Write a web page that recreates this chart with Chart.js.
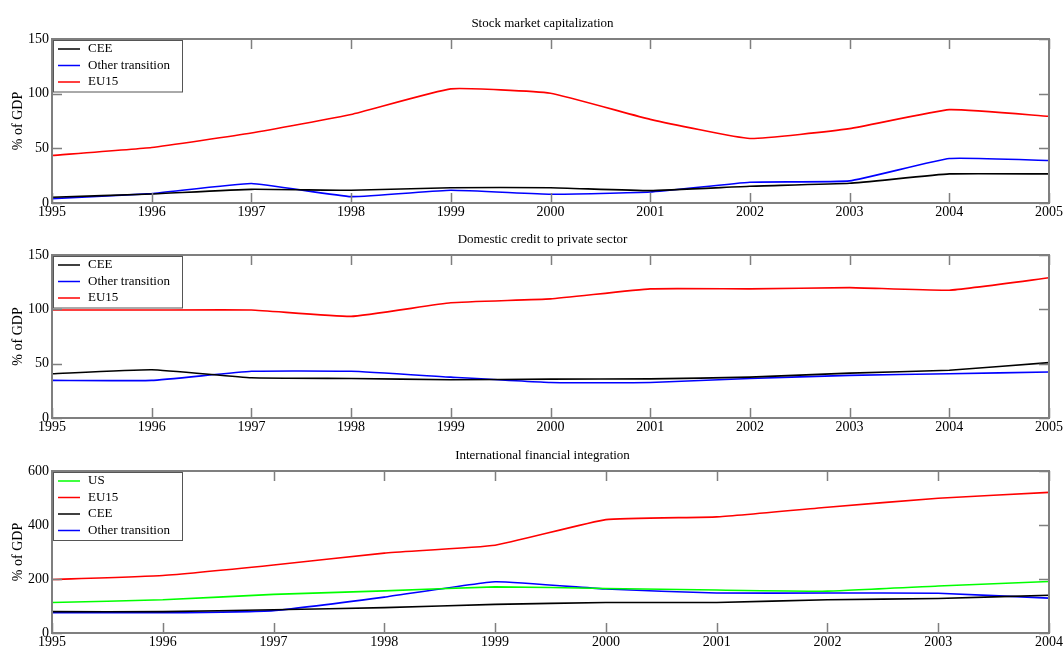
<!DOCTYPE html>
<html>
<head>
<meta charset="utf-8">
<script src="https://cdn.jsdelivr.net/npm/chart.js@4.4.0/dist/chart.umd.min.js"></script>
<style>
  html, body { margin: 0; padding: 0; background: #fff; overflow: hidden; }
  body { width: 1064px; height: 647px; position: relative; }
  .panel { position: absolute; left: 0; width: 1064px; height: 230px; }
</style>
</head>
<body>
<div class="panel" style="top:0px"><canvas id="c1"></canvas></div>
<div class="panel" style="top:216px"><canvas id="c2"></canvas></div>
<div class="panel" style="top:432px"><canvas id="c3"></canvas></div>
<script>
// years
const years = ['1995', '1996', '1997', '1998', '1999', '2000', '2001', '2002', '2003', '2004', '2005'];
const yearsIntl = ['1995', '1996', '1997', '1998', '1999', '2000', '2001', '2002', '2003', '2004'];

// Stock market capitalization (% of GDP)
const stockCEE = [5.2, 8.3, 12.5, 11.6, 14, 14, 11.3, 15.3, 18, 26.6, 26.6];
const stockOther = [4, 8.6, 17.8, 5.8, 11.6, 8, 10, 19, 20.2, 40.7, 38.9];
const stockEU15 = [43.5, 50.8, 64, 81, 104.4, 100.4, 76.5, 59, 68, 85.4, 79.3];

// Domestic credit to private sector (% of GDP)
const creditCEE = [40.7, 44.4, 37, 36.4, 35.2, 35.8, 36, 37.6, 41.3, 44, 51];
const creditOther = [34.6, 34.6, 43, 43, 37.6, 32.7, 32.7, 36.4, 39.2, 40.7, 42.3];
const creditEU15 = [99.4, 99.4, 99.4, 93.5, 106, 109.6, 118.8, 118.8, 120, 117.6, 129];

// International financial integration (% of GDP)
const intlUS = [113, 123, 143, 156, 171, 165, 159, 155, 174, 191];
const intlEU15 = [198, 213, 252, 296, 325, 420, 430, 466, 499, 521];
const intlCEE = [79, 79, 86, 94, 106, 113, 113, 123, 128, 140];
const intlOther = [75, 75, 83, 133, 190, 163, 148, 148, 147, 129];

// y axis ticks
const ticksSmall = [0, 50, 100, 150];
const ticksIntl = [0, 200, 400, 600];

const FONT = 'Liberation Serif';

// frame, inward ticks, title and boxed legend drawn on top of the chart
const framePlugin = {
    id: 'frame',
    afterDraw(chart, args, opts) {
        const ctx = chart.ctx;
        const a = chart.chartArea;
        const xs = chart.scales.x, ys = chart.scales.y;
        ctx.save();
        ctx.strokeStyle = '#7f7f7f';
        ctx.lineWidth = 1.5;
        ctx.beginPath();
        xs.ticks.forEach((t, i) => {
            const x = Math.round(xs.getPixelForTick(i)) + 0.5;
            ctx.moveTo(x, a.bottom); ctx.lineTo(x, a.bottom - 10);
            ctx.moveTo(x, a.top); ctx.lineTo(x, a.top + 10);
        });
        ys.ticks.forEach(t => {
            const y = Math.round(ys.getPixelForValue(t.value)) + 0.5;
            ctx.moveTo(a.left, y); ctx.lineTo(a.left + 10, y);
            ctx.moveTo(a.right, y); ctx.lineTo(a.right - 10, y);
        });
        ctx.stroke();
        ctx.lineWidth = 2;
        ctx.strokeRect(a.left, a.top, a.right - a.left, a.bottom - a.top);

        // title
        ctx.fillStyle = '#000';
        ctx.font = '13px "' + FONT + '"';
        ctx.textAlign = 'center';
        ctx.textBaseline = 'middle';
        ctx.fillText(opts.title, (a.left + a.right) / 2 - 8, a.top - 15);

        // legend
        const ds = chart.data.datasets;
        const rowH = 16.5;
        const bx = a.left + 1, by = a.top + 1;
        const bw = 129, bh = ds.length * rowH + 2;
        ctx.fillStyle = '#fff';
        ctx.fillRect(bx, by, bw, bh);
        ctx.lineWidth = 1;
        ctx.strokeStyle = '#555';
        ctx.strokeRect(bx + 0.5, by + 0.5, bw, bh);
        ctx.textAlign = 'left';
        ds.forEach((d, i) => {
            const y = by + 9 + i * rowH;
            ctx.strokeStyle = d.borderColor;
            ctx.lineWidth = 1.5;
            ctx.beginPath();
            ctx.moveTo(bx + 5, y); ctx.lineTo(bx + 27, y);
            ctx.stroke();
            ctx.fillStyle = '#000';
            ctx.fillText(d.label, bx + 35, y);
        });
        ctx.restore();
    }
};

function makeChart(id, title, labels, datasets, yTicks, xAxisHeight) {
    new Chart(document.getElementById(id), {
        type: 'line',
        data: {
            labels: labels,
            datasets: datasets.map(d => ({
                label: d[0],
                data: d[1],
                borderColor: d[2],
                backgroundColor: d[2],
                borderWidth: 1.6,
                pointRadius: 0,
                fill: false,
                tension: 0.12
            }))
        },
        options: {
            responsive: true,
            maintainAspectRatio: false,
            animation: false,
            layout: { padding: { top: 39, right: 15, left: 0, bottom: 0 } },
            plugins: {
                legend: { display: false },
                tooltip: { enabled: false },
                frame: { title: title }
            },
            scales: {
                x: {
                    type: 'category',
                    offset: false,
                    grid: { display: false, drawTicks: false },
                    border: { display: false },
                    ticks: {
                        color: '#000',
                        font: { family: FONT, size: 14 },
                        padding: 1,
                        maxRotation: 0,
                        autoSkip: false
                    },
                    afterFit: s => { s.height = xAxisHeight; }
                },
                y: {
                    min: yTicks[0],
                    max: yTicks[yTicks.length - 1],
                    grid: { display: false, drawTicks: false },
                    border: { display: false },
                    afterBuildTicks: s => { s.ticks = yTicks.map(v => ({ value: v })); },
                    ticks: {
                        color: '#000',
                        font: { family: FONT, size: 14 },
                        padding: 3
                    },
                    title: {
                        display: true,
                        text: '% of GDP',
                        color: '#000',
                        font: { family: FONT, size: 14 },
                        padding: { top: 10, bottom: 0 }
                    },
                    afterFit: s => { s.width = 52; }
                }
            }
        },
        plugins: [framePlugin]
    });
}

makeChart('c1', 'Stock market capitalization', years, [
    ['CEE', stockCEE, '#000000'],
    ['Other transition', stockOther, '#0000ff'],
    ['EU15', stockEU15, '#ff0000']
], ticksSmall, 27);

makeChart('c2', 'Domestic credit to private sector', years, [
    ['CEE', creditCEE, '#000000'],
    ['Other transition', creditOther, '#0000ff'],
    ['EU15', creditEU15, '#ff0000']
], ticksSmall, 28);

makeChart('c3', 'International financial integration', yearsIntl, [
    ['US', intlUS, '#00ff00'],
    ['EU15', intlEU15, '#ff0000'],
    ['CEE', intlCEE, '#000000'],
    ['Other transition', intlOther, '#0000ff']
], ticksIntl, 29);
</script>
</body>
</html>
